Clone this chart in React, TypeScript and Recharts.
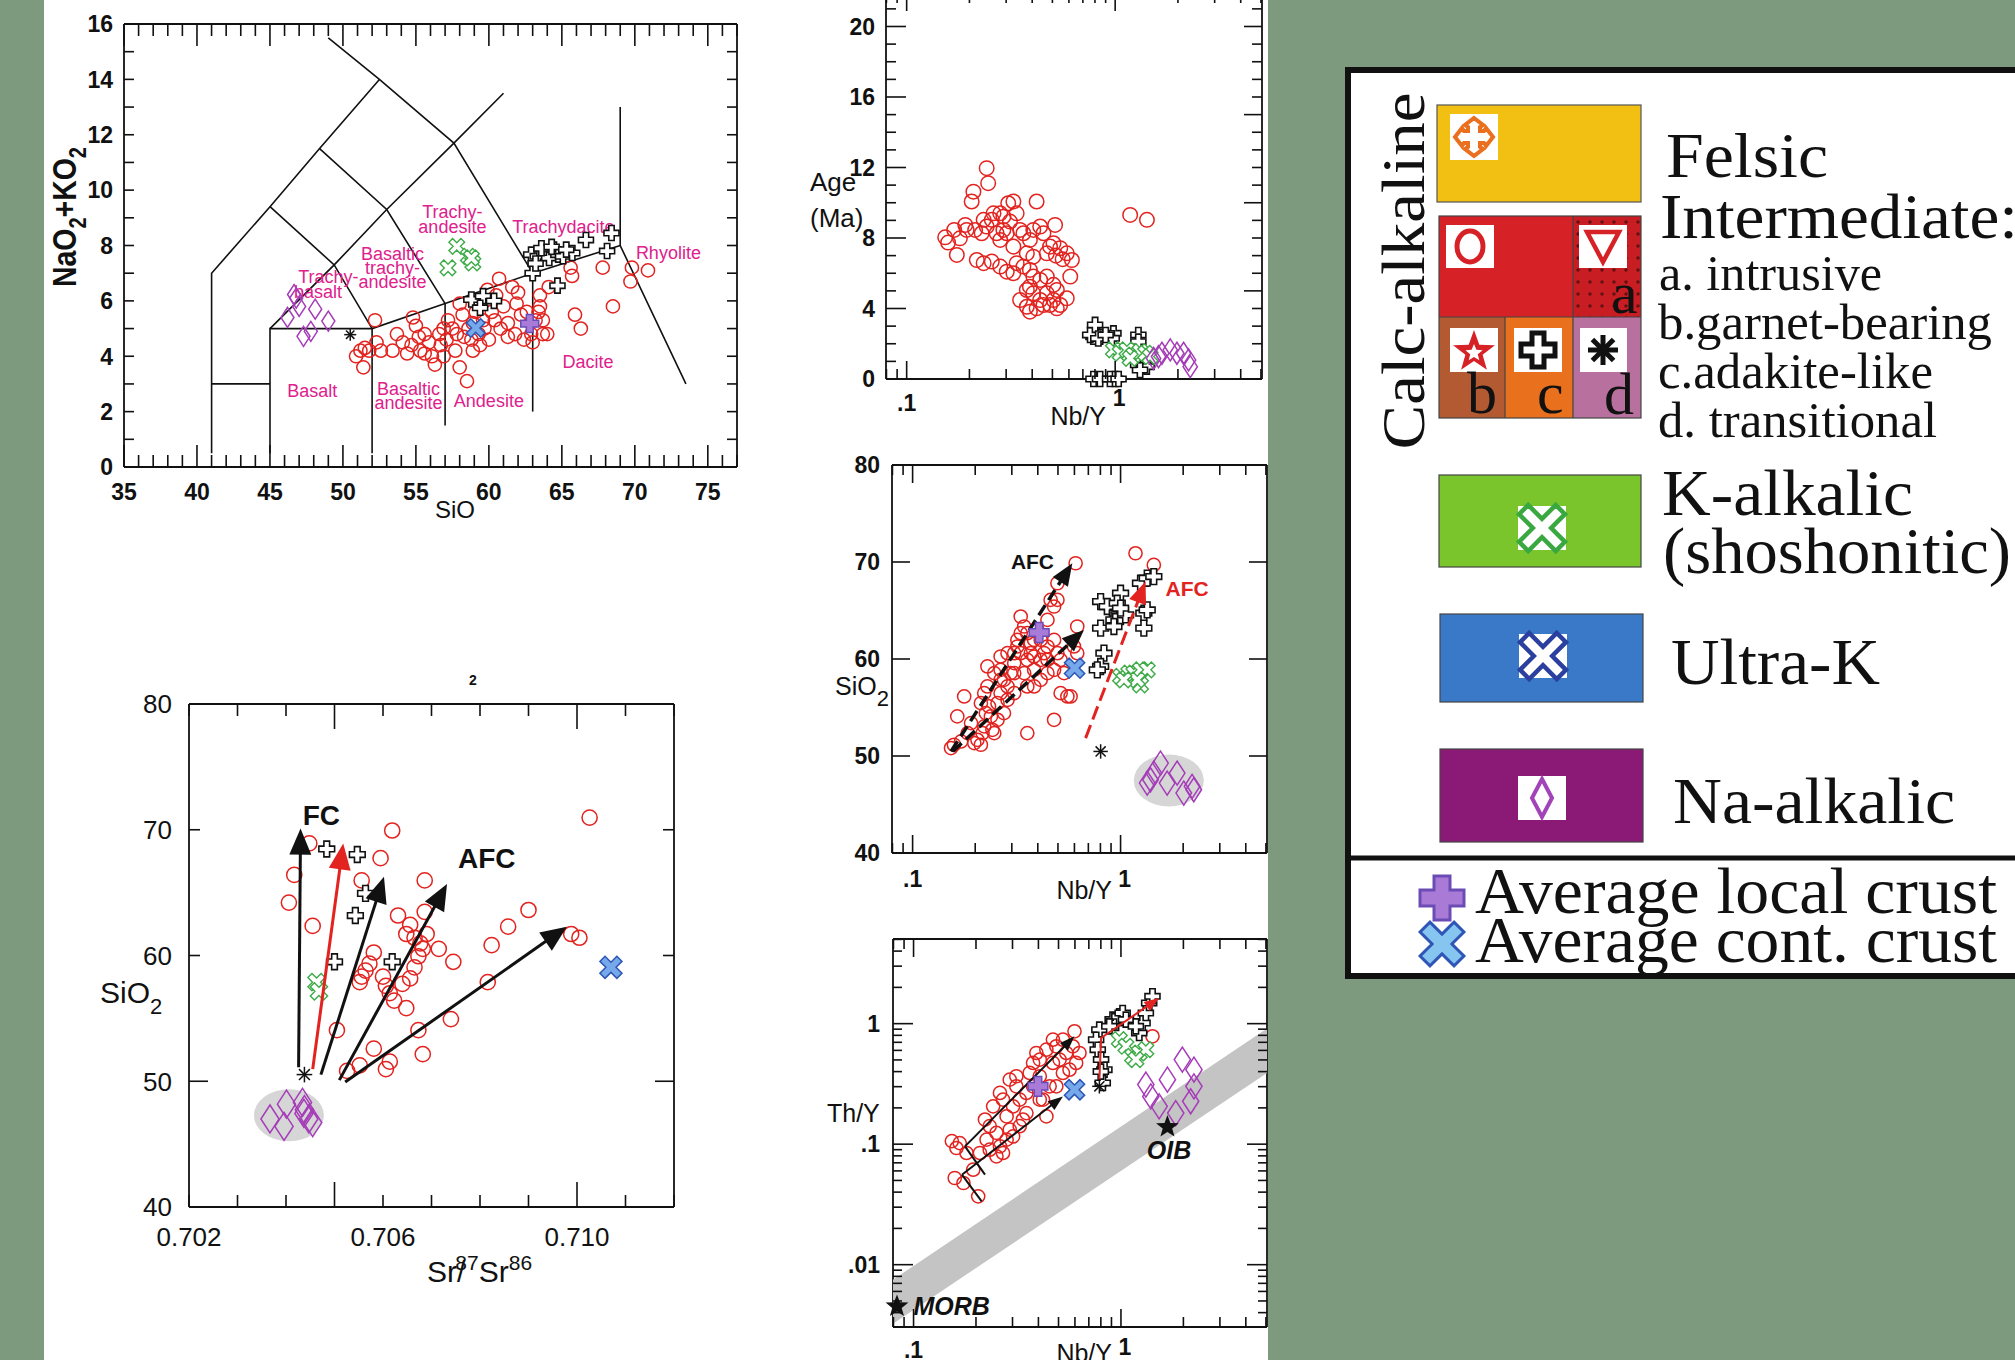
import React from "react";
import { ScatterChart, Scatter, XAxis, YAxis } from "recharts";

const SANS = "'Liberation Sans', Arial, sans-serif";
const SERIF = "'Liberation Serif', 'Times New Roman', serif";
const INK = "#111111";
const RED = "#e2231f";
const GREEN = "#3dab47";
const PURPLE = "#a53cb8";
const MAGENTA = "#e0208c";
const BG = "#7e9a7e";

type P = [number, number];
type Lab = { x: number; y: number; t: string };

// ---------- TAS diagram (SiO2 vs Na2O+K2O) ----------
const tasLines: P[][] = [
  [[41, 0.5], [41, 7], [45, 9.4], [48.4, 11.5], [52.5, 14]],
  [[41, 3], [45, 3]],
  [[45, 0.5], [45, 5], [52, 5], [57, 5.9], [63, 7], [69, 8]],
  [[52, 0.5], [52, 5]],
  [[57, 1.5], [57, 5.9]],
  [[63, 2], [63, 7]],
  [[69, 13], [69, 8], [73.5, 3]],
  [[45, 5], [49.4, 7.3], [53, 9.3], [57.6, 11.7], [61, 13.5]],
  [[45, 9.4], [49.4, 7.3], [52, 5]],
  [[48.4, 11.5], [53, 9.3], [57, 5.9]],
  [[49, 15.5], [52.5, 14], [57.6, 11.7], [63, 7]],
];
const tasNames: Lab[] = [
  { x: 57.5, y: 9.2, t: "Trachy-" }, { x: 57.5, y: 8.68, t: "andesite" },
  { x: 65.1, y: 8.68, t: "Trachydacite" },
  { x: 53.4, y: 7.69, t: "Basaltic" }, { x: 53.4, y: 7.2, t: "trachy-" }, { x: 53.4, y: 6.68, t: "andesite" },
  { x: 49.0, y: 6.86, t: "Trachy-" }, { x: 48.3, y: 6.32, t: "basalt" },
  { x: 72.3, y: 7.73, t: "Rhyolite" }, { x: 66.8, y: 3.79, t: "Dacite" },
  { x: 47.9, y: 2.74, t: "Basalt" }, { x: 54.5, y: 2.8, t: "Basaltic" }, { x: 54.5, y: 2.31, t: "andesite" },
  { x: 60.0, y: 2.38, t: "Andesite" },
];
const tasRed: P[] = [
  [50.9, 4.0], [51.2, 4.2], [51.5, 4.3], [51.4, 3.6], [51.8, 4.2], [52.2, 5.3], [52.3, 4.5], [52.6, 4.2], [53.4, 4.2],
  [53.7, 4.8], [54.1, 4.5], [54.4, 4.1], [54.7, 4.4], [54.8, 5.4], [55.0, 5.1], [55.2, 4.7], [55.3, 4.2], [55.6, 4.1],
  [55.9, 4.5], [56.1, 4.0], [56.3, 3.7], [56.6, 4.8], [56.7, 4.4], [56.9, 5.0], [57.1, 4.6], [57.2, 5.3], [57.5, 5.0],
  [57.7, 4.2], [57.8, 4.8], [58.0, 3.6], [58.2, 5.5], [58.3, 4.7], [58.5, 3.1], [58.6, 5.0], [58.8, 4.6], [58.9, 5.2],
  [59.1, 5.6], [59.3, 4.8], [59.4, 4.4], [59.6, 5.3], [59.7, 5.0], [59.9, 6.4], [60.0, 4.6], [60.2, 5.6], [60.4, 5.3],
  [60.7, 6.8], [60.8, 5.0], [61.0, 5.8], [61.3, 5.2], [61.6, 6.5], [61.8, 4.8], [61.9, 5.9], [62.2, 5.5], [62.4, 4.6],
  [62.6, 5.6], [62.9, 4.8], [63.2, 5.3], [63.4, 5.6], [63.5, 6.2], [63.5, 5.8], [63.7, 4.8], [64.0, 4.8], [64.1, 6.5],
  [65.6, 7.2], [65.7, 6.9], [65.9, 5.5], [66.3, 5.0], [67.8, 7.2], [68.5, 5.8], [69.8, 7.2], [69.7, 6.7], [70.9, 7.1],
  [63.7, 5.3], [63.0, 4.5], [61.3, 4.7], [59.4, 6.0], [58.9, 4.2], [56.9, 4.0], [55.6, 4.8], [58.0, 5.9], [60.5, 6.2], [62.0, 6.3],
];
const tasCross: P[] = [
  [62.9, 7.67], [63.35, 7.61], [63.8, 7.73], [64.13, 7.55], [64.45, 7.85], [64.76, 7.67], [65.08, 7.61], [65.71, 7.73],
  [66.65, 8.2], [68.4, 8.45], [68.1, 7.8], [63.0, 7.0], [64.7, 6.55], [58.8, 6.05], [59.6, 6.17], [60.35, 6.0], [59.4, 5.75],
  [63.6, 7.9], [64.3, 7.95], [65.3, 7.85], [63.2, 7.35],
];
const tasGreen: P[] = [[57.8, 7.97], [57.2, 7.19], [58.6, 7.61], [58.9, 7.37], [58.8, 7.55]];
const tasDiamond: P[] = [[46.8, 6.1], [47.0, 5.8], [46.2, 5.4], [48.1, 5.7], [49.0, 5.27], [47.3, 4.72], [47.8, 4.9], [46.65, 6.23]];
const tasAster: P[] = [[50.5, 4.78]];
const tasLocal: P[] = [[62.8, 5.18]];
const tasCont: P[] = [[59.1, 5.02]];

// ---------- Age vs Nb/Y ----------
const ageRed: P[] = [
  [0.153, 8.04], [0.158, 7.74], [0.169, 8.46], [0.174, 7.04], [0.18, 7.98], [0.191, 8.74], [0.209, 10.63], [0.205, 10.07],
  [0.242, 11.96], [0.246, 11.11], [0.213, 8.46], [0.229, 8.27], [0.242, 8.65], [0.256, 9.03], [0.27, 8.27], [0.281, 9.4],
  [0.291, 8.46], [0.307, 9.97], [0.325, 10.07], [0.337, 9.4], [0.35, 8.46], [0.363, 8.27], [0.39, 7.89], [0.405, 8.46],
  [0.42, 10.07], [0.437, 8.65], [0.453, 8.27], [0.515, 8.74], [0.217, 6.75], [0.234, 6.57], [0.256, 6.66], [0.281, 6.38],
  [0.302, 6.09], [0.325, 6.0], [0.337, 6.57], [0.363, 6.38], [0.39, 6.19], [0.405, 5.81], [0.437, 5.62], [0.47, 7.13],
  [0.487, 7.51], [0.506, 7.7], [0.545, 7.42], [0.586, 7.13], [0.62, 6.75], [0.47, 5.81], [0.506, 5.34], [0.525, 5.05],
  [0.609, 5.81], [0.39, 5.24], [0.405, 4.86], [0.437, 4.48], [0.377, 4.1], [0.39, 3.82], [0.42, 4.01], [0.47, 4.86],
  [0.506, 4.48], [0.545, 4.2], [0.586, 4.58], [0.525, 4.01], [0.487, 4.2], [0.453, 4.2], [0.35, 4.48], [0.377, 5.05],
  [0.261, 9.4], [0.291, 9.21], [0.313, 8.93], [0.234, 9.03], [0.194, 8.46], [1.18, 9.31], [1.42, 9.03], [0.281, 7.89],
  [0.325, 7.51], [0.377, 7.13], [0.302, 8.27], [0.405, 6.94], [0.52, 7.0], [0.56, 6.8],
];
const ageCross: P[] = [
  [0.787, 2.4], [0.816, 2.59], [0.846, 2.4], [0.759, 2.5], [0.801, 3.07], [0.981, 2.59], [0.963, 2.31], [1.292, 2.5],
  [1.292, 2.12], [1.269, 1.08], [1.365, 0.89], [1.416, 0.7], [1.316, 0.51], [0.787, 0], [0.846, 0], [0.945, 0], [1.0, 0],
  [1.038, 0], [1.222, 1.08], [0.83, 2.3], [0.9, 2.5],
];
const ageGreen: P[] = [[0.981, 1.65], [1.057, 1.46], [1.138, 1.65], [1.222, 1.36], [1.316, 1.55], [1.4, 1.46], [1.18, 1.17], [1.47, 1.27]];
const ageDiamond: P[] = [[1.528, 1.17], [1.675, 1.46], [1.837, 1.65], [1.977, 1.46], [2.128, 1.46], [2.249, 1.08], [2.291, 0.7], [1.614, 1.27]];

// ---------- SiO2 vs Nb/Y ----------
const midRed: P[] = [
  [0.153, 50.82], [0.158, 51.16], [0.171, 51.5], [0.164, 54.08], [0.177, 56.14], [0.184, 52.36], [0.191, 53.39], [0.198, 51.33],
  [0.205, 51.67], [0.213, 51.16], [0.217, 52.36], [0.221, 53.05], [0.225, 54.42], [0.221, 56.48], [0.229, 57.17], [0.233, 55.11],
  [0.238, 54.08], [0.242, 52.7], [0.247, 52.36], [0.256, 53.73], [0.256, 55.45], [0.265, 56.48], [0.247, 58.54], [0.265, 58.88],
  [0.275, 57.85], [0.275, 54.42], [0.286, 55.79], [0.286, 57.17], [0.296, 58.54], [0.308, 59.57], [0.308, 60.6], [0.319, 61.97],
  [0.331, 62.66], [0.331, 64.38], [0.344, 63.35], [0.344, 58.54], [0.356, 57.17], [0.356, 59.91], [0.37, 60.6], [0.37, 61.63],
  [0.384, 58.88], [0.384, 57.17], [0.398, 63.0], [0.413, 59.91], [0.413, 57.85], [0.429, 60.6], [0.445, 64.03], [0.445, 58.54],
  [0.461, 66.09], [0.479, 65.41], [0.479, 58.88], [0.479, 53.73], [0.497, 66.09], [0.497, 60.6], [0.515, 59.91], [0.515, 56.48],
  [0.535, 58.54], [0.555, 56.14], [0.575, 56.14], [0.597, 61.29], [0.619, 63.35], [0.619, 60.6], [0.497, 67.81], [0.608, 69.87],
  [0.356, 52.36], [0.413, 61.97], [0.308, 56.48], [0.265, 60.26], [0.229, 59.23], [0.213, 55.45], [1.18, 70.9], [1.445, 69.7],
  [0.319, 61.29], [0.384, 61.97], [0.445, 61.29], [0.479, 61.97], [0.356, 62.66], [0.286, 60.6], [0.331, 60.6], [0.384, 60.26],
  [0.445, 59.91], [0.265, 57.85], [0.308, 58.54],
];
const midCross: P[] = [
  [0.802, 65.92], [0.863, 65.41], [1.0, 66.78], [0.964, 64.72], [0.929, 64.03], [1.0, 64.38], [1.057, 64.55], [0.802, 63.18],
  [0.832, 60.6], [0.802, 59.23], [0.773, 58.88], [1.247, 67.81], [1.343, 68.33], [1.445, 68.5], [1.294, 64.72], [1.343, 65.06],
  [1.294, 63.18], [0.964, 65.75], [1.0, 65.24], [0.929, 63.35],
];
const midGreen: P[] = [[1.0, 58.2], [1.096, 58.54], [1.159, 58.54], [1.247, 58.88], [1.343, 58.88], [1.247, 57.34], [1.202, 57.85], [1.038, 57.85]];
const midDiamond: P[] = [[1.343, 47.21], [1.445, 48.24], [1.556, 49.27], [1.675, 47.21], [1.871, 48.24], [2.014, 46.18], [2.208, 46.87], [2.249, 46.52], [1.393, 47.55]];
const midEllipse: P[] = [[1.706, 47.48]];
const midAster: P[] = [[0.802, 50.47]];
const midLocal: P[] = [[0.406, 62.73]];
const midCont: P[] = [[0.601, 59.06]];
const midArrowA: P[] = [[0.153, 50.47], [0.586, 69.87]];
const midArrowB: P[] = [[0.156, 50.47], [0.667, 63.0]];
const midArrowRed: P[] = [[0.679, 51.85], [1.318, 67.98]];
const midBlackLab: Lab[] = [{ x: 0.377, y: 70.04, t: "AFC" }];
const midRedLab: Lab[] = [{ x: 2.089, y: 67.3, t: "AFC" }];

// ---------- Th/Y vs Nb/Y ----------
const botBand: P[] = [[0.0796, 0.00324], [0.0796, 0.0075], [5.06, 0.91], [5.06, 0.39]];
const botRed: P[] = [
  [0.153, 0.106], [0.161, 0.0929], [0.167, 0.102], [0.18, 0.0845], [0.158, 0.0524], [0.174, 0.0476], [0.205, 0.0369], [0.194, 0.0614],
  [0.209, 0.0845], [0.225, 0.109], [0.233, 0.09], [0.251, 0.0793], [0.261, 0.0959], [0.27, 0.0845], [0.221, 0.16], [0.242, 0.206],
  [0.261, 0.266], [0.281, 0.17], [0.291, 0.132], [0.302, 0.206], [0.313, 0.302], [0.325, 0.234], [0.337, 0.16], [0.35, 0.266],
  [0.363, 0.39], [0.377, 0.472], [0.391, 0.571], [0.406, 0.366], [0.421, 0.234], [0.437, 0.17], [0.453, 0.302], [0.47, 0.472],
  [0.488, 0.649], [0.506, 0.503], [0.525, 0.736], [0.545, 0.571], [0.565, 0.415], [0.586, 0.649], [0.597, 0.864], [0.631, 0.571],
  [0.608, 0.472], [0.47, 0.736], [0.437, 0.608], [0.406, 0.503], [0.377, 0.302], [0.35, 0.181], [0.325, 0.141], [0.302, 0.116],
  [0.281, 0.109], [0.251, 0.124], [0.233, 0.141], [0.313, 0.366], [0.406, 0.234], [0.488, 0.302], [0.525, 0.39], [1.419, 0.785],
  [0.27, 0.234], [0.291, 0.343],
];
const botCross: P[] = [
  [0.787, 0.892], [0.759, 0.736], [0.773, 0.608], [0.802, 0.503], [0.832, 0.415], [0.817, 0.322], [0.912, 1.08], [0.946, 1.013],
  [0.982, 1.15], [1.019, 1.226], [1.057, 1.08], [0.879, 0.95], [1.225, 0.837], [1.271, 1.013], [1.318, 1.226], [1.368, 1.484],
  [1.419, 1.686], [1.18, 0.95], [0.8, 0.4],
];
const botGreen: P[] = [[0.982, 0.736], [1.057, 0.649], [1.138, 0.536], [1.225, 0.571], [1.318, 0.608], [1.18, 0.503]];
const botDiamond: P[] = [[1.318, 0.312], [1.393, 0.249], [1.528, 0.206], [1.675, 0.343], [1.977, 0.503], [2.249, 0.415], [2.249, 0.302], [2.168, 0.227], [1.837, 0.181]];
const botAster: P[] = [[0.787, 0.302]];
const botLocal: P[] = [[0.398, 0.302]];
const botCont: P[] = [[0.597, 0.283]];
const botStars: P[] = [[0.0832, 0.00451], [1.675, 0.139]];
const botArrow1: P[] = [[0.177, 0.0959], [0.597, 0.785]];
const botArrow2: P[] = [[0.171, 0.0558], [0.525, 0.249]];
const botStub1: P[] = [[0.177, 0.0959], [0.221, 0.0558]];
const botStub2: P[] = [[0.171, 0.0558], [0.213, 0.0335]];
const botRedPath: P[] = [[0.787, 0.343], [0.802, 0.76], [1.528, 1.633]];
const botOIB: Lab[] = [{ x: 1.706, y: 0.09, t: "OIB" }];
const botMORB: Lab[] = [{ x: 0.1, y: 0.00451, t: "MORB" }];

// ---------- SiO2 vs 87Sr/86Sr ----------
const srRed: P[] = [
  [0.70417, 66.41], [0.70406, 64.21], [0.70455, 62.35], [0.70448, 68.91], [0.70505, 54.06], [0.70526, 50.82], [0.70552, 51.26],
  [0.70606, 50.97], [0.70614, 51.56], [0.70581, 52.59], [0.70619, 69.94], [0.70595, 67.74], [0.70556, 65.97], [0.70631, 63.18],
  [0.70656, 62.44], [0.70648, 61.71], [0.70665, 61.41], [0.70677, 60.97], [0.7069, 61.71], [0.70686, 63.47], [0.70686, 65.97],
  [0.70682, 60.53], [0.70673, 59.94], [0.70665, 59.06], [0.70656, 58.18], [0.7064, 57.74], [0.70581, 60.24], [0.70572, 59.35],
  [0.70564, 58.8], [0.70556, 58.32], [0.70552, 57.88], [0.70606, 57.59], [0.70614, 57.0], [0.70623, 56.41], [0.70648, 55.82],
  [0.70715, 60.53], [0.70745, 59.5], [0.7074, 54.94], [0.70673, 54.06], [0.70682, 52.15], [0.70816, 57.88], [0.70824, 60.82],
  [0.70858, 62.29], [0.709, 63.62], [0.70988, 61.71], [0.71005, 61.41], [0.71026, 70.97], [0.706, 58.32],
];
const srCross: P[] = [[0.70484, 68.47], [0.70547, 68.03], [0.70564, 64.94], [0.70543, 63.18], [0.705, 59.5], [0.70619, 59.5]];
const srGreen: P[] = [[0.70463, 57.88], [0.70468, 57.15]];
const srDiamond: P[] = [[0.70367, 47.0], [0.70396, 46.41], [0.70401, 48.18], [0.70434, 48.32], [0.70438, 47.74], [0.70447, 47.0], [0.70455, 46.71], [0.70437, 47.44]];
const srEllipse: P[] = [[0.70406, 47.29]];
const srAster: P[] = [[0.70438, 50.53]];
const srCont: P[] = [[0.7107, 59.06]];
const srFC: P[] = [[0.70426, 51.12], [0.7043, 70.09]];
const srRedArrow: P[] = [[0.70455, 50.97], [0.70518, 68.91]];
const srA2: P[] = [[0.70472, 50.53], [0.70602, 66.26]];
const srA3: P[] = [[0.7051, 50.09], [0.70732, 65.68]];
const srA4: P[] = [[0.70522, 49.94], [0.70979, 62.29]];
const srLabels: Lab[] = [{ x: 0.70473, y: 71.17, t: "FC" }, { x: 0.70814, y: 67.75, t: "AFC" }];

// ---------- axis ticks ----------
const range = (a: number, b: number) => { const r: number[] = []; for (let v = a; v <= b; v++) r.push(v); return r; };
const tasXTicks = range(35, 77);
const tasYTicks = range(0, 16);
const ageYTicks = range(0, 21);
const nbTicks = [0.08, 0.09, 0.1, 0.2, 0.3, 0.4, 0.5, 0.6, 0.7, 0.8, 0.9, 1, 2, 3, 4, 5];
const sio2Ticks = [40, 50, 60, 70, 80];
const thTicks = [0.004, 0.005, 0.006, 0.007, 0.008, 0.009, 0.01, 0.02, 0.03, 0.04, 0.05, 0.06, 0.07, 0.08, 0.09,
  0.1, 0.2, 0.3, 0.4, 0.5, 0.6, 0.7, 0.8, 0.9, 1, 2, 3, 4, 5];
const srTicks = [0.702, 0.703, 0.704, 0.705, 0.706, 0.707, 0.708, 0.709, 0.71, 0.711, 0.712];

// ---------- drawing helpers ----------
type XY = { x: number; y: number };
const xy = (d: P[]) => d.map(([x, y]) => ({ x, y }));
const blank = () => <g />;
const pathD = (pts: XY[]) => pts.map((q, i) => `${i ? "L" : "M"}${q.x.toFixed(1)},${q.y.toFixed(1)}`).join("");

function plusPath(cx: number, cy: number, a: number, w: number) {
  return `M${cx - w},${cy - a}H${cx + w}V${cy - w}H${cx + a}V${cy + w}H${cx + w}V${cy + a}H${cx - w}V${cy + w}H${cx - a}V${cy - w}H${cx - w}Z`;
}
function starPath(cx: number, cy: number, ro: number, ri: number) {
  let d = "";
  for (let i = 0; i < 10; i++) {
    const r = i % 2 ? ri : ro;
    const ang = -Math.PI / 2 + (i * Math.PI) / 5;
    d += `${i ? "L" : "M"}${(cx + r * Math.cos(ang)).toFixed(1)},${(cy + r * Math.sin(ang)).toFixed(1)}`;
  }
  return d + "Z";
}

type Kind = "circle" | "cross" | "xmark" | "diamond" | "aster" | "local" | "cont" | "star";
function Marker({ kind, cx, cy, s, d = 1 }: { kind: Kind; cx: number; cy: number; s: number; d?: number }) {
  switch (kind) {
    case "circle":
      return <circle cx={cx} cy={cy} r={6.6 * s} fill="none" stroke={RED} strokeWidth={1.5} />;
    case "cross":
      return <path d={plusPath(cx, cy, 7.5 * s, 2.7 * s)} fill="#fff" stroke={INK} strokeWidth={1.6} />;
    case "xmark":
      return <path d={plusPath(cx, cy, 8.5 * s, 2.6 * s)} transform={`rotate(45 ${cx} ${cy})`} fill="#fff" stroke={GREEN} strokeWidth={1.4} />;
    case "diamond":
      return <path d={`M${cx},${cy - 10 * d}L${cx + 6.5 * d},${cy}L${cx},${cy + 10 * d}L${cx - 6.5 * d},${cy}Z`} fill="none" stroke={PURPLE} strokeWidth={1.5} />;
    case "aster": {
      const r = 6 * s;
      return (
        <g stroke={INK} strokeWidth={1.5}>
          <line x1={cx - r} y1={cy} x2={cx + r} y2={cy} />
          <line x1={cx} y1={cy - r} x2={cx} y2={cy + r} />
          <line x1={cx - r * 0.7} y1={cy - r * 0.7} x2={cx + r * 0.7} y2={cy + r * 0.7} />
          <line x1={cx - r * 0.7} y1={cy + r * 0.7} x2={cx + r * 0.7} y2={cy - r * 0.7} />
        </g>
      );
    }
    case "local":
      return <path d={plusPath(cx, cy, 9 * s, 3.4 * s)} fill="#a97bd8" stroke="#6a4cb8" strokeWidth={1.5} />;
    case "cont":
      return <path d={plusPath(cx, cy, 10 * s, 3 * s)} transform={`rotate(45 ${cx} ${cy})`} fill="#76a9ea" stroke="#2d56b4" strokeWidth={1.5} />;
    default:
      return <path d={starPath(cx, cy, 12 * s, 5 * s)} fill={INK} />;
  }
}

function dots(key: string, d: P[], kind: Kind, s: number, dd = 1) {
  return (
    <Scatter key={key} xAxisId="b" yAxisId="l" data={xy(d)} isAnimationActive={false}
      shape={(p: any) => <Marker kind={kind} cx={p.cx} cy={p.cy} s={s} d={dd} />} />
  );
}
function ellipses(key: string, d: P[], rx: number, ry: number) {
  return (
    <Scatter key={key} xAxisId="b" yAxisId="l" data={xy(d)} isAnimationActive={false}
      shape={(p: any) => <ellipse cx={p.cx} cy={p.cy} rx={rx} ry={ry} fill="#d6d6d6" />} />
  );
}
function trace(key: string, d: P[], draw: (pts: XY[]) => React.ReactElement) {
  return (
    <Scatter key={key} xAxisId="b" yAxisId="l" data={xy(d)} isAnimationActive={false} shape={blank}
      lineType="joint" line={(lp: any) => draw(lp.points || [])} />
  );
}
function texts(key: string, d: Lab[], style: any) {
  return (
    <Scatter key={key} xAxisId="b" yAxisId="l" data={d} isAnimationActive={false}
      shape={(p: any) => (
        <text x={p.cx} y={p.cy} dominantBaseline="central" fontFamily={SANS} {...style}>{(p.payload ?? p).t}</text>
      )} />
  );
}
const polyline = (stroke: string, width: number) => (pts: XY[]) =>
  <path d={pathD(pts)} fill="none" stroke={stroke} strokeWidth={width} />;
const polygon = (fill: string) => (pts: XY[]) => <path d={pathD(pts) + "Z"} fill={fill} stroke="none" />;
const arrow = (color: string, width: number, head: number, headW: number, dash?: string) => (pts: XY[]) => {
  if (pts.length < 2) return <g />;
  const a = pts[pts.length - 2];
  const b = pts[pts.length - 1];
  const dx = b.x - a.x, dy = b.y - a.y;
  const L = Math.hypot(dx, dy) || 1;
  const ux = dx / L, uy = dy / L;
  const hx = b.x - ux * head, hy = b.y - uy * head;
  const shaft = [...pts.slice(0, -1), { x: b.x - ux * head * 0.7, y: b.y - uy * head * 0.7 }];
  const tri = `M${b.x},${b.y}L${hx - (uy * headW) / 2},${hy + (ux * headW) / 2}L${hx + (uy * headW) / 2},${hy - (ux * headW) / 2}Z`;
  return (
    <g>
      <path d={pathD(shaft)} fill="none" stroke={color} strokeWidth={width} strokeDasharray={dash} />
      <path d={tri} fill={color} />
    </g>
  );
};

// ---------- ticks drawn inward, labels outward ----------
type Side = "bottom" | "top" | "left" | "right";
function tickFn(side: Side, len: (v: number) => number, label: (v: number) => string | null = () => null,
  font = 21, gap = 10, nudge: (v: number) => [number, number] = () => [0, 0], weight = "normal") {
  return (p: any) => {
    const v: number = p.payload.value;
    const L = len(v);
    const t = label(v);
    const [nx, ny] = nudge(v);
    const x = p.x, y = p.y;
    let x2 = x, y2 = y;
    if (side === "bottom") y2 = y - L;
    else if (side === "top") y2 = y + L;
    else if (side === "left") x2 = x + L;
    else x2 = x - L;
    let tx = x, ty = y, anchor = "middle";
    if (side === "bottom") ty = y + gap + font * 0.72;
    if (side === "left") { tx = x - gap; ty = y + font * 0.36; anchor = "end"; }
    return (
      <g>
        {L > 0 && <line x1={x} y1={y} x2={x2} y2={y2} stroke={INK} strokeWidth={1.6} />}
        {t && <text x={tx + nx} y={ty + ny} textAnchor={anchor} fontFamily={SANS} fontSize={font} fontWeight={weight} fill={INK}>{t}</text>}
      </g>
    );
  };
}

// axes are 1px thick so Recharts draws them; margins put the plot box where wanted
const M = { top: 40, right: 30, bottom: 70, left: 110 };
const AXL = { stroke: INK, strokeWidth: 1.8 };

type PanelProps = {
  x0: number; y0: number; w: number; h: number; xd: [number, number]; yd: [number, number];
  xlog?: boolean; ylog?: boolean; xt: number[]; yt: number[]; tb: any; tt: any; tl: any; tr: any;
  children?: React.ReactNode;
};
function Panel({ x0, y0, w, h, xd, yd, xlog, ylog, xt, yt, tb, tt, tl, tr, children }: PanelProps) {
  const xs = xlog ? "log" : "linear";
  const ys = ylog ? "log" : "linear";
  return (
    <div style={{ position: "absolute", left: x0 - M.left - 1, top: y0 - M.top - 1 }}>
      <ScatterChart width={w + M.left + M.right + 2} height={h + M.top + M.bottom + 2} margin={M}>
        <XAxis xAxisId="b" type="number" dataKey="x" domain={xd} scale={xs} ticks={xt} interval={0} tickSize={0}
          tickMargin={0} tickLine={false} axisLine={AXL} height={1} tick={tb} />
        <XAxis xAxisId="t" orientation="top" type="number" dataKey="x" domain={xd} scale={xs} ticks={xt} interval={0}
          tickSize={0} tickMargin={0} tickLine={false} axisLine={AXL} height={1} tick={tt} />
        <YAxis yAxisId="l" type="number" dataKey="y" domain={yd} scale={ys} ticks={yt} interval={0} tickSize={0}
          tickMargin={0} tickLine={false} axisLine={AXL} width={1} tick={tl} />
        <YAxis yAxisId="r" orientation="right" type="number" dataKey="y" domain={yd} scale={ys} ticks={yt} interval={0}
          tickSize={0} tickMargin={0} tickLine={false} axisLine={AXL} width={1} tick={tr} />
        <Scatter xAxisId="t" yAxisId="r" data={[{ x: xd[0], y: yd[0] }, { x: xd[1], y: yd[1] }]} shape={blank} isAnimationActive={false} />
        {children}
      </ScatterChart>
    </div>
  );
}

const isDec = (v: number) => v === 0.1 || v === 1;
const nbLen = (v: number) => (isDec(v) ? 18 : 10);
const nbLab = (v: number) => (v === 0.1 ? ".1" : v === 1 ? "1" : null);

function Legend() {
  const txt = (x: number, y: number, s: number, t: string, len: number) => (
    <text x={x} y={y} fontFamily={SERIF} fontSize={s} fill={INK} textLength={len} lengthAdjust="spacingAndGlyphs">{t}</text>
  );
  const ast = (cx: number, cy: number, r: number) => (
    <g stroke={INK} strokeWidth={5}>
      {[0, 45, 90, 135].map((a) => (
        <line key={a} x1={cx - r * Math.cos((a * Math.PI) / 180)} y1={cy - r * Math.sin((a * Math.PI) / 180)}
          x2={cx + r * Math.cos((a * Math.PI) / 180)} y2={cy + r * Math.sin((a * Math.PI) / 180)} />
      ))}
    </g>
  );
  const qc = (cx: number, cy: number) => {
    const w = 6, L = 19;
    const p = [
      [cx, cy - L], [cx + w + 3, cy - L + 7], [cx + w, cy - L + 9], [cx + w, cy - w], [cx + L - 9, cy - w], [cx + L - 7, cy - w - 3],
      [cx + L, cy], [cx + L - 7, cy + w + 3], [cx + L - 9, cy + w], [cx + w, cy + w], [cx + w, cy + L - 9], [cx + w + 3, cy + L - 7],
      [cx, cy + L], [cx - w - 3, cy + L - 7], [cx - w, cy + L - 9], [cx - w, cy + w], [cx - L + 9, cy + w], [cx - L + 7, cy + w + 3],
      [cx - L, cy], [cx - L + 7, cy - w - 3], [cx - L + 9, cy - w], [cx - w, cy - w], [cx - w, cy - L + 9], [cx - w - 3, cy - L + 7],
    ];
    return <path d={"M" + p.map((q) => q.join(",")).join("L") + "Z"} fill="#fff" stroke="#ea6f1e" strokeWidth={4} />;
  };
  return (
    <g>
      <defs>
        <pattern id="dotp" width="12" height="12" patternUnits="userSpaceOnUse">
          <rect width="12" height="12" fill="#c81d22" />
          <path d="M6 4V8M4 6H8" stroke="#3a0a0a" strokeWidth="0.9" />
        </pattern>
      </defs>
      <rect x={1348} y={70} width={720} height={906} fill="#fff" stroke={INK} strokeWidth={6} />
      <line x1={1345} y1={858} x2={2015} y2={858} stroke={INK} strokeWidth={5} />

      <text transform="translate(1424,271) rotate(-90)" textAnchor="middle" fontFamily={SERIF} fontSize={62} fill={INK}
        textLength={357} lengthAdjust="spacingAndGlyphs">Calc-alkaline</text>

      <rect x={1437} y={105} width={204} height={97} fill="#f2c012" stroke="#555" strokeWidth={1.2} />
      <rect x={1450} y={114} width={48} height={46} fill="#fff" />
      {qc(1474, 137)}

      <rect x={1439} y={216} width={134} height={101} fill="#d62126" />
      <rect x={1573} y={216} width={68} height={101} fill="url(#dotp)" />
      <rect x={1439} y={317} width={66} height={101} fill="#b35a32" />
      <rect x={1505} y={317} width={68} height={101} fill="#e9711d" />
      <rect x={1573} y={317} width={68} height={101} fill="#b8719f" />
      <g fill="none" stroke="#444" strokeWidth={1.2}>
        <rect x={1439} y={216} width={202} height={202} />
        <line x1={1439} y1={317} x2={1641} y2={317} />
        <line x1={1573} y1={216} x2={1573} y2={418} />
        <line x1={1505} y1={317} x2={1505} y2={418} />
      </g>
      <rect x={1446} y={225} width={48} height={43} fill="#fff" />
      <ellipse cx={1470} cy={246.5} rx={13} ry={15.5} fill="none" stroke="#d62126" strokeWidth={5} />
      <rect x={1579} y={225} width={48} height={43} fill="#fff" />
      <path d="M1587,232L1619,232L1603,262Z" fill="#fff" stroke="#d62126" strokeWidth={4.5} />
      <rect x={1450} y={328} width={48} height={44} fill="#fff" />
      <path d={starPath(1474, 352, 22, 9)} fill="#d62126" />
      <path d={starPath(1474, 353, 9, 4)} fill="#fff" />
      <rect x={1514} y={328} width={48} height={44} fill="#fff" />
      <path d={plusPath(1538, 350, 17, 6)} fill="#fff" stroke={INK} strokeWidth={5} />
      <rect x={1580} y={328} width={47} height={44} fill="#fff" />
      {ast(1603, 350, 15)}
      <g fontFamily={SERIF} fontSize={60} fill={INK}>
        <text x={1611} y={313}>a</text>
        <text x={1467} y={413}>b</text>
        <text x={1537} y={413}>c</text>
        <text x={1604} y={414}>d</text>
      </g>

      <rect x={1439} y={475} width={202} height={92} fill="#79c52b" stroke="#444" strokeWidth={1.2} />
      <rect x={1518} y={506} width={48} height={44} fill="#fff" />
      <path d={plusPath(1542, 528, 26, 6.5)} transform="rotate(45 1542 528)" fill="#fff" stroke="#3aa840" strokeWidth={4.5} />

      <rect x={1440} y={614} width={203} height={88} fill="#3979c7" stroke="#444" strokeWidth={1.2} />
      <rect x={1519} y={634} width={48} height={44} fill="#fff" />
      <path d={plusPath(1543, 656, 26, 6.5)} transform="rotate(45 1543 656)" fill="#fff" stroke="#2b3f9e" strokeWidth={4.5} />

      <rect x={1440} y={749} width={203} height={93} fill="#8b1a77" stroke="#444" strokeWidth={1.2} />
      <rect x={1518} y={776} width={48} height={44} fill="#fff" />
      <path d="M1542,779L1552,798L1542,817L1532,798Z" fill="#fff" stroke="#a343b8" strokeWidth={4} />

      {txt(1666, 177, 64, "Felsic", 162)}
      {txt(1660, 238, 64, "Intermediate:", 358)}
      {txt(1659, 290, 50, "a. intrusive", 223)}
      {txt(1658, 339, 50, "b.garnet-bearing", 334)}
      {txt(1658, 388, 50, "c.adakite-like", 275)}
      {txt(1658, 437, 50, "d. transitional", 279)}
      {txt(1662, 515, 66, "K-alkalic", 251)}
      {txt(1663, 573, 66, "(shoshonitic)", 348)}
      {txt(1671, 684, 66, "Ultra-K", 209)}
      {txt(1673, 823, 66, "Na-alkalic", 282)}

      <path d={plusPath(1442, 898, 22, 8)} fill="#a97bd6" stroke="#6b4cb5" strokeWidth={3} />
      <path d={plusPath(1442, 944, 24, 7)} transform="rotate(45 1442 944)" fill="#86c5f0" stroke="#2f56b6" strokeWidth={3} />
      {txt(1475, 913, 66, "Average local crust", 522)}
      {txt(1475, 962, 66, "Average cont. crust", 522)}
    </g>
  );
}

function Titles() {
  return (
    <g fontFamily={SANS} fill={INK}>
      <text transform="translate(76,217) rotate(-90)" textAnchor="middle" fontSize={34} fontWeight="bold"
        textLength={140} lengthAdjust="spacingAndGlyphs">
        NaO<tspan dy={10} fontSize={24}>2</tspan><tspan dy={-10}>+KO</tspan><tspan dy={10} fontSize={24}>2</tspan>
      </text>
      <text x={455} y={518} fontSize={24} textAnchor="middle">SiO</text>

      <text x={810} y={191} fontSize={26}>Age</text>
      <text x={810} y={227} fontSize={26}>(Ma)</text>
      <text x={1106} y={425} fontSize={25} textAnchor="end">Nb/Y</text>

      <text x={835} y={695} fontSize={25}>SiO<tspan dy={11} fontSize={22}>2</tspan></text>
      <text x={1112} y={899} fontSize={25} textAnchor="end">Nb/Y</text>

      <text x={827} y={1122} fontSize={25}>Th/Y</text>
      <text x={1112} y={1362} fontSize={25} textAnchor="end">Nb/Y</text>

      <text x={100} y={1003} fontSize={30}>SiO<tspan dy={11} fontSize={22}>2</tspan></text>
      <text x={427} y={1282} fontSize={30}>
        Sr/<tspan dx={-10} dy={-12} fontSize={21}>87</tspan><tspan dy={12} fontSize={30}>Sr</tspan>
        <tspan dy={-12} fontSize={21}>86</tspan>
      </text>
      <text x={473} y={685} fontSize={14} fontWeight="bold" textAnchor="middle">2</text>
    </g>
  );
}

export default function App() {
  const boldLab = { fontSize: 21, fontWeight: "bold", textAnchor: "middle" };
  const tasLen = (v: number) => (v % 5 === 0 ? 22 : 12);
  return (
    <div style={{ position: "absolute", left: 0, top: 0, width: 2015, height: 1360, overflow: "hidden", background: BG }}>
      <div style={{ position: "absolute", left: 44, top: 0, width: 1224, height: 1360, background: "#fff" }} />

      {/* TAS */}
      <Panel x0={124} y0={24} w={613} h={443} xd={[35, 77]} yd={[0, 16]} xt={tasXTicks} yt={tasYTicks}
        tb={tickFn("bottom", tasLen, (v) => (v % 5 === 0 && v <= 75 ? String(v) : null), 23, 16, undefined, "bold")}
        tt={tickFn("top", tasLen)}
        tl={tickFn("left", () => 10, (v) => (v % 2 === 0 ? String(v) : null), 23, 11, undefined, "bold")}
        tr={tickFn("right", () => 10)}>
        {tasLines.map((ln, i) => trace(`tl${i}`, ln, polyline(INK, 1.6)))}
        {texts("tn", tasNames, { fontSize: 18, fill: MAGENTA, textAnchor: "middle" })}
        {dots("tr", tasRed, "circle", 1)}
        {dots("tc", tasCross, "cross", 1)}
        {dots("tg", tasGreen, "xmark", 1)}
        {dots("td", tasDiamond, "diamond", 1, 1)}
        {dots("ta", tasAster, "aster", 1)}
        {dots("tco", tasCont, "cont", 1)}
        {dots("tlo", tasLocal, "local", 1)}
      </Panel>

      {/* Age vs Nb/Y */}
      <Panel x0={886} y0={-7} w={376} h={386} xd={[0.0796, 5.06]} yd={[0, 21.9]} xlog xt={nbTicks} yt={ageYTicks}
        tb={tickFn("bottom", nbLen, nbLab, 23, 15, (v) => (v === 1 ? [4, -5] : [0, 0]), "bold")}
        tt={tickFn("top", nbLen)}
        tl={tickFn("left", (v) => (v % 4 === 0 ? 20 : 10), (v) => (v % 4 === 0 ? String(v) : null), 23, 11, undefined, "bold")}
        tr={tickFn("right", (v) => (v % 5 === 0 ? 18 : 10))}>
        {dots("ar", ageRed, "circle", 1.1)}
        {dots("ac", ageCross, "cross", 1)}
        {dots("ag", ageGreen, "xmark", 1)}
        {dots("ad", ageDiamond, "diamond", 1, 1.1)}
      </Panel>

      {/* SiO2 vs Nb/Y */}
      <Panel x0={892} y0={465} w={375} h={388} xd={[0.0796, 5.06]} yd={[40, 80]} xlog xt={nbTicks} yt={sio2Ticks}
        tb={tickFn("bottom", nbLen, nbLab, 23, 17, (v) => (v === 1 ? [4, 0] : [0, 0]), "bold")}
        tt={tickFn("top", nbLen)}
        tl={tickFn("left", (v) => (v === 40 || v === 80 ? 0 : 18), (v) => String(v), 23, 12, undefined, "bold")}
        tr={tickFn("right", (v) => (v === 40 || v === 80 ? 0 : 18))}>
        {ellipses("me", midEllipse, 35, 26)}
        {dots("mr", midRed, "circle", 1)}
        {dots("mc", midCross, "cross", 1.05)}
        {dots("mg", midGreen, "xmark", 1)}
        {dots("md", midDiamond, "diamond", 1, 1.2)}
        {dots("ma", midAster, "aster", 1.2)}
        {trace("mA", midArrowA, arrow(INK, 3.5, 22, 18, "12 6"))}
        {trace("mB", midArrowB, arrow(INK, 3.5, 22, 18, "12 6"))}
        {trace("mR", midArrowRed, arrow(RED, 3, 22, 18, "14 6"))}
        {dots("mlo", midLocal, "local", 1.1)}
        {dots("mco", midCont, "cont", 1.1)}
        {texts("mlb", midBlackLab, { ...boldLab, fill: INK })}
        {texts("mlr", midRedLab, { ...boldLab, fill: RED })}
      </Panel>

      {/* Th/Y vs Nb/Y */}
      <Panel x0={893} y0={939} w={374} h={388} xd={[0.0796, 5.06]} yd={[0.00304, 5.04]} xlog ylog xt={nbTicks} yt={thTicks}
        tb={tickFn("bottom", nbLen, nbLab, 23, 14, (v) => (v === 1 ? [4, -3] : [0, 0]), "bold")}
        tt={tickFn("top", nbLen)}
        tl={tickFn("left", (v) => (v === 0.01 || isDec(v) ? 20 : 9), (v) => (v === 0.01 ? ".01" : nbLab(v)), 23, 13, undefined, "bold")}
        tr={tickFn("right", (v) => (v === 0.01 || isDec(v) ? 20 : 9))}>
        {trace("bb", botBand, polygon("#c4c4c4"))}
        {dots("br", botRed, "circle", 1)}
        {dots("bc", botCross, "cross", 1)}
        {dots("bg", botGreen, "xmark", 1)}
        {dots("bd", botDiamond, "diamond", 1, 1.25)}
        {trace("bs1", botStub1, polyline(INK, 2))}
        {trace("bs2", botStub2, polyline(INK, 2))}
        {trace("ba1", botArrow1, arrow(INK, 2, 15, 11))}
        {trace("ba2", botArrow2, arrow(INK, 2, 15, 11))}
        {trace("bar", botRedPath, arrow(RED, 2, 15, 11))}
        {dots("ba", botAster, "aster", 1.2)}
        {dots("blo", botLocal, "local", 1.1)}
        {dots("bco", botCont, "cont", 1.1)}
        {dots("bst", botStars, "star", 1)}
        {texts("boib", botOIB, { fontSize: 25, fontWeight: "bold", fontStyle: "italic", textAnchor: "middle", fill: INK })}
        {texts("bmorb", botMORB, { fontSize: 25, fontWeight: "bold", fontStyle: "italic", textAnchor: "start", fill: INK })}
      </Panel>

      {/* SiO2 vs 87Sr/86Sr */}
      <Panel x0={189} y0={704} w={485} h={503} xd={[0.702, 0.712]} yd={[40, 80]} xt={srTicks} yt={sio2Ticks}
        tb={tickFn("bottom", (v) => (v === 0.705 || v === 0.71 ? 25 : 12), (v) => (v === 0.702 || v === 0.706 || v === 0.71 ? v.toFixed(3) : null), 26, 20)}
        tt={tickFn("top", (v) => (v === 0.705 || v === 0.71 ? 25 : 12))}
        tl={tickFn("left", (v) => (v === 50 ? 19 : v === 60 || v === 70 ? 11 : 0), (v) => String(v), 26, 17)}
        tr={tickFn("right", (v) => (v === 50 ? 19 : v === 60 || v === 70 ? 11 : 0))}>
        {ellipses("se", srEllipse, 35, 26)}
        {dots("sr", srRed, "circle", 1.15)}
        {dots("sc", srCross, "cross", 1.05)}
        {dots("sg", srGreen, "xmark", 1.1)}
        {dots("sd", srDiamond, "diamond", 1, 1.4)}
        {trace("s1", srFC, arrow(INK, 3, 26, 22))}
        {trace("s2", srRedArrow, arrow(RED, 3, 26, 22))}
        {trace("s3", srA2, arrow(INK, 3, 26, 22))}
        {trace("s4", srA3, arrow(INK, 3, 26, 22))}
        {trace("s5", srA4, arrow(INK, 3, 26, 22))}
        {dots("sa", srAster, "aster", 1.3)}
        {dots("sco", srCont, "cont", 1.2)}
        {texts("sl", srLabels, { fontSize: 28, fontWeight: "bold", textAnchor: "middle", fill: INK })}
      </Panel>

      <svg width={2015} height={1360} style={{ position: "absolute", left: 0, top: 0, pointerEvents: "none" }}>
        <Titles />
        <Legend />
      </svg>
    </div>
  );
}
